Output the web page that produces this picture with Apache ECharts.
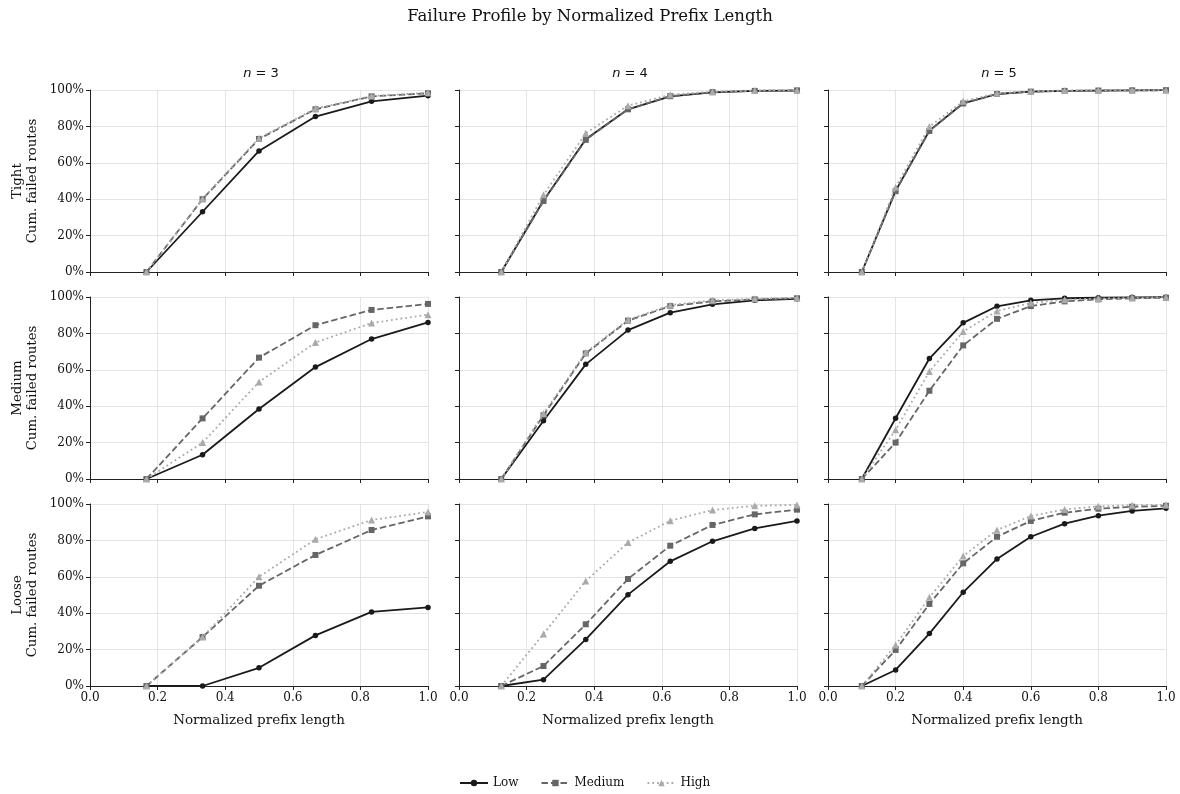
<!DOCTYPE html>
<html>
<head>
<meta charset="utf-8">
<script src="https://cdn.jsdelivr.net/npm/echarts@6/dist/echarts.min.js"></script>
<style>
  html, body { margin: 0; padding: 0; background: #fff; }
  #chart { width: 1180px; height: 794px; }
</style>
</head>
<body>
<div id="chart"></div>
<script>
// prefix positions per n
const x3 = [0.167, 0.333, 0.5, 0.667, 0.833, 1.0];
const x4 = [0.125, 0.25, 0.375, 0.5, 0.625, 0.75, 0.875, 1.0];
const x5 = [0.1, 0.2, 0.3, 0.4, 0.5, 0.6, 0.7, 0.8, 0.9, 1.0];

const rowNames = ['Tight', 'Medium', 'Loose'];
const colNs = [3, 4, 5];
const levels = ['Low', 'Medium', 'High'];

// cumulative failed routes (%)
const tightN3Low  = [0, 33.1, 66.5, 85.4, 93.8, 96.9];
const tightN3Med  = [0, 40.0, 73.1, 89.4, 96.5, 98.2];
const tightN3High = [0, 40.2, 73.5, 89.8, 96.7, 98.5];

const tightN4Low  = [0, 39.3, 73.0, 89.4, 96.5, 98.7, 99.5, 99.7];
const tightN4Med  = [0, 39.0, 72.6, 89.4, 96.6, 98.8, 99.5, 99.8];
const tightN4High = [0, 42.4, 76.2, 91.4, 97.4, 99.1, 99.7, 99.9];

const tightN5Low  = [0, 44.6, 77.7, 92.7, 97.8, 99.1, 99.5, 99.7, 99.8, 99.9];
const tightN5Med  = [0, 44.4, 77.5, 92.6, 97.8, 99.1, 99.5, 99.7, 99.8, 99.9];
const tightN5High = [0, 46.6, 79.9, 93.8, 98.2, 99.3, 99.7, 99.8, 99.9, 99.9];

const mediumN3Low  = [0, 13.3, 38.5, 61.5, 76.9, 86.0];
const mediumN3Med  = [0, 33.3, 66.7, 84.5, 92.9, 96.2];
const mediumN3High = [0, 20.0, 53.3, 75.0, 85.7, 90.3];

const mediumN4Low  = [0, 32.0, 63.0, 81.8, 91.4, 96.0, 98.2, 99.0];
const mediumN4Med  = [0, 35.0, 69.0, 87.0, 95.0, 97.6, 98.7, 99.3];
const mediumN4High = [0, 36.0, 69.5, 87.5, 95.5, 98.2, 99.0, 99.5];

const mediumN5Low  = [0, 33.4, 66.2, 85.8, 94.9, 98.2, 99.3, 99.6, 99.8, 99.9];
const mediumN5Med  = [0, 20.0, 48.5, 73.4, 88.0, 95.0, 97.6, 98.7, 99.3, 99.6];
const mediumN5High = [0, 27.0, 59.0, 81.0, 92.3, 96.7, 98.5, 99.2, 99.6, 99.8];

const looseN3Low  = [0, 0, 10.0, 27.8, 40.7, 43.2];
const looseN3Med  = [0, 26.9, 55.1, 72.0, 85.7, 93.2];
const looseN3High = [0, 26.9, 60.0, 80.6, 91.2, 95.6];

const looseN4Low  = [0, 3.5, 25.6, 50.2, 68.5, 79.5, 86.6, 90.7];
const looseN4Med  = [0, 11.0, 33.9, 58.8, 77.1, 88.5, 94.3, 96.9];
const looseN4High = [0, 28.6, 57.7, 78.8, 90.8, 96.7, 99.0, 99.5];

const looseN5Low  = [0, 8.8, 28.8, 51.5, 69.8, 82.0, 89.2, 93.6, 96.2, 97.6];
const looseN5Med  = [0, 19.8, 45.1, 67.4, 82.0, 90.7, 95.2, 97.4, 98.5, 99.0];
const looseN5High = [0, 22.5, 48.7, 71.4, 85.7, 93.4, 97.0, 98.7, 99.3, 99.6];

const xsByCol = [x3, x4, x5];
const table = [
  [[tightN3Low, tightN3Med, tightN3High], [tightN4Low, tightN4Med, tightN4High], [tightN5Low, tightN5Med, tightN5High]],
  [[mediumN3Low, mediumN3Med, mediumN3High], [mediumN4Low, mediumN4Med, mediumN4High], [mediumN5Low, mediumN5Med, mediumN5High]],
  [[looseN3Low, looseN3Med, looseN3High], [looseN4Low, looseN4Med, looseN4High], [looseN5Low, looseN5Med, looseN5High]]
];

const serif = '"DejaVu Serif", serif';
const gridLeft = [90, 459, 828];
const gridTop = [90, 297, 504];
const gridW = 338, gridH = 182;

const styles = {
  Low:    { color: '#1a1a1a', type: 'solid', symbol: 'circle', size: 5.5 },
  Medium: { color: '#666666', type: [6.5, 3], symbol: 'rect', size: 6 },
  High:   { color: '#aaaaaa', type: [1.8, 3], symbol: 'triangle', size: 7 }
};

const grids = [], xAxes = [], yAxes = [], series = [], titles = [];

titles.push({
  text: 'Failure Profile by Normalized Prefix Length',
  left: 'center', top: 3,
  textStyle: { fontFamily: serif, fontSize: 16.5, fontWeight: 'normal', color: '#111' }
});

colNs.forEach((n, c) => {
  titles.push({
    text: '{i|n} = ' + n,
    left: gridLeft[c] + gridW / 2 - 3, top: 62, textAlign: 'center',
    textStyle: {
      fontFamily: '"DejaVu Sans", sans-serif', fontSize: 13, fontWeight: 'normal', color: '#111',
      rich: { i: { fontFamily: '"DejaVu Sans", sans-serif', fontStyle: 'italic', fontSize: 13, color: '#111' } }
    }
  });
});

let idx = 0;
rowNames.forEach((rowName, r) => {
  colNs.forEach((n, c) => {
    grids.push({ left: gridLeft[c], top: gridTop[r], width: gridW, height: gridH });
    const bottomRow = r === 2;
    xAxes.push({
      type: 'value', gridIndex: idx, min: 0, max: 1, interval: 0.2,
      name: bottomRow ? 'Normalized prefix length' : '',
      nameLocation: 'middle', nameGap: 27,
      nameTextStyle: { fontFamily: serif, fontSize: 13.5, color: '#111' },
      axisLine: { show: true, lineStyle: { color: '#222', width: 1 } },
      axisTick: { show: true, length: 4, lineStyle: { color: '#222' } },
      axisLabel: {
        show: bottomRow, fontFamily: serif, fontSize: 12, color: '#111', margin: 6,
        formatter: v => v.toFixed(1)
      },
      splitLine: { show: true, lineStyle: { color: '#dddddd', width: 0.8 } }
    });
    yAxes.push({
      type: 'value', gridIndex: idx, min: 0, max: 100, interval: 20,
      name: c === 0 ? rowName + '\nCum. failed routes' : '',
      nameLocation: 'middle', nameGap: 50, nameRotate: 90,
      nameTextStyle: { fontFamily: serif, fontSize: 13.3, color: '#111', lineHeight: 15, align: 'center' },
      axisLine: { show: true, lineStyle: { color: '#222', width: 1 } },
      axisTick: { show: true, length: 4, lineStyle: { color: '#222' } },
      axisLabel: {
        show: c === 0, fontFamily: serif, fontSize: 12, color: '#111', margin: 6,
        formatter: v => v + '%'
      },
      splitLine: { show: true, lineStyle: { color: '#dddddd', width: 0.8 } }
    });
    const xs = xsByCol[c];
    levels.forEach((lv, k) => {
      const s = styles[lv];
      series.push({
        name: lv, type: 'line', xAxisIndex: idx, yAxisIndex: idx,
        data: table[r][c][k].map((v, i) => [xs[i], v]),
        symbol: s.symbol, symbolSize: s.size, showSymbol: true,
        itemStyle: { color: s.color },
        lineStyle: { color: s.color, width: 1.8, type: s.type },
        z: 2 + k,
        emphasis: { disabled: true }
      });
    });
    idx++;
  });
});

const chart = echarts.init(document.getElementById('chart'));
chart.setOption({
  animation: false,
  backgroundColor: '#fff',
  title: titles,
  grid: grids,
  xAxis: xAxes,
  yAxis: yAxes,
  series: series,
  legend: {
    data: levels,
    bottom: 0, left: 454,
    itemWidth: 28, itemHeight: 8, itemGap: 22,
    textStyle: { fontFamily: serif, fontSize: 12, color: '#111' }
  }
});
</script>
</body>
</html>
